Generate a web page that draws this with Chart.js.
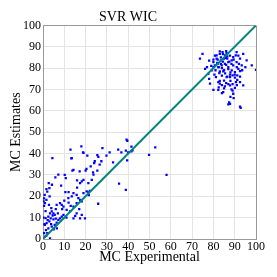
<!DOCTYPE html>
<html>
<head>
<meta charset="utf-8">
<script src="https://cdn.jsdelivr.net/npm/chart.js@4"></script>
<style>
  html, body { margin: 0; padding: 0; background: #fff; }
  #wrap { width: 277px; height: 277px; }
</style>
</head>
<body>
<div id="wrap"><canvas id="svrChart" width="277" height="277"></canvas></div>
<script>
// valores (MC experimental vs MC estimado)
const expX = [
  18, 12.9, 39.2, 39.6, 52.7, 41.5, 27.9, 18.8, 4.4, 13.3, 20.8, 25.5, 31.3, 35.3, 36.8, 38.9, 41.5, 49.8, 58, 35.7,
  38.9, 25.9, 39.5, 29.8, 32.9, 26.6, 24.3, 22.4, 20.4, 17.2, 13.8, 23.5, 25.5, 27.4, 10.2, 10.7, 5.8, 2.7, 4.2, 1.6,
  2, 3.1, 0.8, 0.3, 0.5, 1.6, 3.9, 0.5, 0.9, 3, 7.2, 6.4, 8, 8.8, 9.6, 2.5, 3.3, 4.1, 4.9, 5.5,
  3.6, 4.9, 3, 1.7, 0.9, 1.4, 2.5, 4.1, 5.5, 6.4, 7.2, 8, 8.8, 9.6, 0.5, 0.9, 3.3, 2, 11.1, 12.7,
  14.3, 15.8, 17.4, 19, 20.5, 21.3, 13.5, 11.9, 14.3, 15.8, 16.6, 18.2, 19.7, 18.2, 15.8, 14.3, 15.1, 17.4, 14.3, 17.4,
  18.2, 19, 21.3, 22.9, 23.7, 19, 13.5, 16, 12, 10, 6, 7, 5, 6.5, 2.2, 1.2, 4.5, 3.8, 6, 11,
  12, 10.5, 21.5, 22, 24, 26, 40, 42, 16, 8.5, 2.8, 1.2, 0.2, 0.7, 17, 13, 9, 20, 1.5,
  // grupo superior
  74.9, 73.7, 77.6, 78, 78.4, 80, 82.3, 84, 84.6, 87.4, 87.8, 87, 92.5, 92.8, 89.3, 90.1, 90.6, 91.2, 94, 95.6,
  98, 100, 95, 90.9, 94, 81.2, 82.3, 83, 85, 86.2, 87.8, 88.6, 90.1, 91.7, 92.5, 93.3, 81.5, 80.7, 83, 84.3,
  86.2, 87.8, 89.3, 88.6, 87, 85.4, 83.9, 82.3, 80.7, 80, 79.2, 76.1, 82.8, 84.6, 87, 89.3, 90.9, 92.5, 91.7, 85.9,
  83.5, 81.8, 80, 87.8, 89, 90.1, 85.4, 87.8, 92.5, 89, 91.2,
  82, 83.5, 84.5, 85.5, 86.5, 87.5, 88.5, 84, 85, 86, 87, 88, 83, 82, 81, 80.5, 84, 85.5, 86.5, 88,
  87, 86, 89, 88.5, 90, 91, 92, 89.5, 90.5, 86, 84.5, 83, 81.5, 80, 79, 78, 77, 83, 84, 82.5,
  85, 89.5, 88, 91, 92.5, 93.5, 86.5, 85, 83.5, 82.5
];
const estY = [
  43.4, 41.8, 46.5, 46, 42.9, 43.3, 42.6, 40.6, 37.9, 37.8, 39, 39.3, 40.6, 41.8, 40.6, 41.4, 41, 39.4, 30, 25.9,
  23, 16.5, 36.8, 39, 35.9, 34.8, 36.4, 34, 32.8, 31.7, 32, 31.2, 32, 36.4, 30, 28.5, 28.8, 26.2, 25.4, 23.4,
  22.2, 19.9, 20.7, 17.6, 15.5, 18.3, 14.4, 19, 16.8, 23.8, 30.1, 16, 16.8, 16, 15.2, 10.5, 12, 12.9, 12, 11.3,
  9.7, 9.2, 8.2, 7.4, 6.6, 4.2, 5, 5.8, 6.6, 7.7, 8.9, 9.7, 10.5, 11.3, 2.7, 1.1, 0.3, 2.7, 13.6, 12.9,
  15.2, 16.8, 18.3, 21.5, 22.3, 21.8, 19.9, 19.1, 21.5, 20.7, 19.1, 17.6, 9.7, 11.3, 12, 9.7, 10.8, 9.7, 32.4, 26.2,
  27, 27.7, 26.2, 27.7, 30.1, 40.3, 37.9, 24, 22, 18, 14, 12, 4.5, 5, 8.8, 9.8, 11, 7, 9.5, 10,
  17, 22, 20.5, 22.5, 35.5, 38.5, 40.5, 41.5, 27.5, 25, 16, 13, 10, 7, 14, 15.5, 14, 32, 1.5,
  // grupo superior
  86.7, 84.4, 77.3, 75, 72.7, 69.8, 69.8, 68.3, 68.8, 64, 63.3, 63, 62, 61.4, 68, 70.8, 73.4, 74.5, 71.9, 83.6,
  81.3, 79.2, 80.5, 87.5, 86.7, 75.8, 73.4, 72.7, 74.2, 75.8, 77, 78.9, 78.1, 79.7, 78.6, 81.3, 84.4, 85.9, 86.7, 87.5,
  87, 85.9, 85.2, 83.6, 82.8, 82, 81.3, 80.5, 81.3, 82.8, 78.9, 79.7, 77.7, 78.5, 80.5, 81.3, 82.8, 84.4, 85.9, 84.8,
  83.6, 82.5, 80.5, 75.8, 76.6, 75.5, 71.4, 71.9, 73.4, 69.5, 76.6,
  84, 85, 83, 86, 84.5, 83, 82, 80, 79, 81.5, 79.5, 78, 78.5, 82, 79, 77, 76.5, 77.5, 76, 74,
  72.5, 73, 72.5, 70, 77, 80.5, 82, 84, 86, 88, 86.5, 87.8, 86, 84, 81, 83.5, 80.5, 74, 72, 71,
  70.5, 66, 66.5, 72, 76, 79, 85.5, 84.5, 82, 80.5
];
const diagX = [0, 100];
const diagY = [0, 100];
const ticksVal = [0, 10, 20, 30, 40, 50, 60, 70, 80, 90, 100];

const puntos = expX.map((x, i) => ({ x: x, y: estY[i] }));
const diagonal = diagX.map((x, i) => ({ x: x, y: diagY[i] }));

const fuente = 'Liberation Serif, Times New Roman, serif';

function colorGrid(ctx) {
  if (ctx.tick && (ctx.tick.value === 100)) return '#9a9a9a';
  return '#e4e4e4';
}

const ctx = document.getElementById('svrChart').getContext('2d');
const chart = new Chart(ctx, {
  type: 'scatter',
  data: {
    datasets: [
      {
        type: 'line',
        data: diagonal,
        borderColor: '#00847d',
        borderWidth: 2,
        pointRadius: 0,
        fill: false,
        order: 0
      },
      {
        data: puntos,
        pointStyle: 'rect',
        pointRadius: 1.6,
        pointBorderWidth: 0,
        backgroundColor: '#0000ff',
        order: 1
      }
    ]
  },
  options: {
    responsive: false,
    animation: false,
    devicePixelRatio: 1,
    layout: { padding: { left: 0, right: 21, top: 0, bottom: 0 } },
    plugins: {
      legend: { display: false },
      tooltip: { enabled: false },
      title: {
        display: true,
        text: 'SVR WIC',
        color: '#000',
        font: { family: fuente, size: 14, weight: 'normal', lineHeight: 1.1 },
        padding: { top: 10, bottom: 0 }
      }
    },
    scales: {
      x: {
        type: 'linear',
        min: 0,
        max: 100,
        afterBuildTicks: s => { s.ticks = ticksVal.map(v => ({ value: v })); },
        afterFit: s => { s.height = 38; },
        grid: { color: colorGrid, drawTicks: false, lineWidth: 1 },
        border: { color: '#9a9a9a' },
        ticks: {
          color: '#000', padding: 1, maxRotation: 0, minRotation: 0, autoSkip: false,
          font: { family: fuente, size: 12 }
        },
        title: {
          display: true,
          text: 'MC Experimental',
          color: '#000',
          padding: { top: 0, bottom: 11 },
          font: { family: fuente, size: 14 }
        }
      },
      y: {
        type: 'linear',
        min: 0,
        max: 100,
        afterBuildTicks: s => { s.ticks = ticksVal.map(v => ({ value: v })); },
        afterFit: s => { s.width = 43; },
        grid: { color: colorGrid, drawTicks: false, lineWidth: 1 },
        border: { color: '#9a9a9a' },
        ticks: { color: '#000', padding: 2, autoSkip: false, font: { family: fuente, size: 12 } },
        title: {
          display: true,
          text: 'MC Estimates',
          color: '#000',
          padding: { top: 8, bottom: 0 },
          font: { family: fuente, size: 14 }
        }
      }
    }
  }
});
</script>
</body>
</html>
